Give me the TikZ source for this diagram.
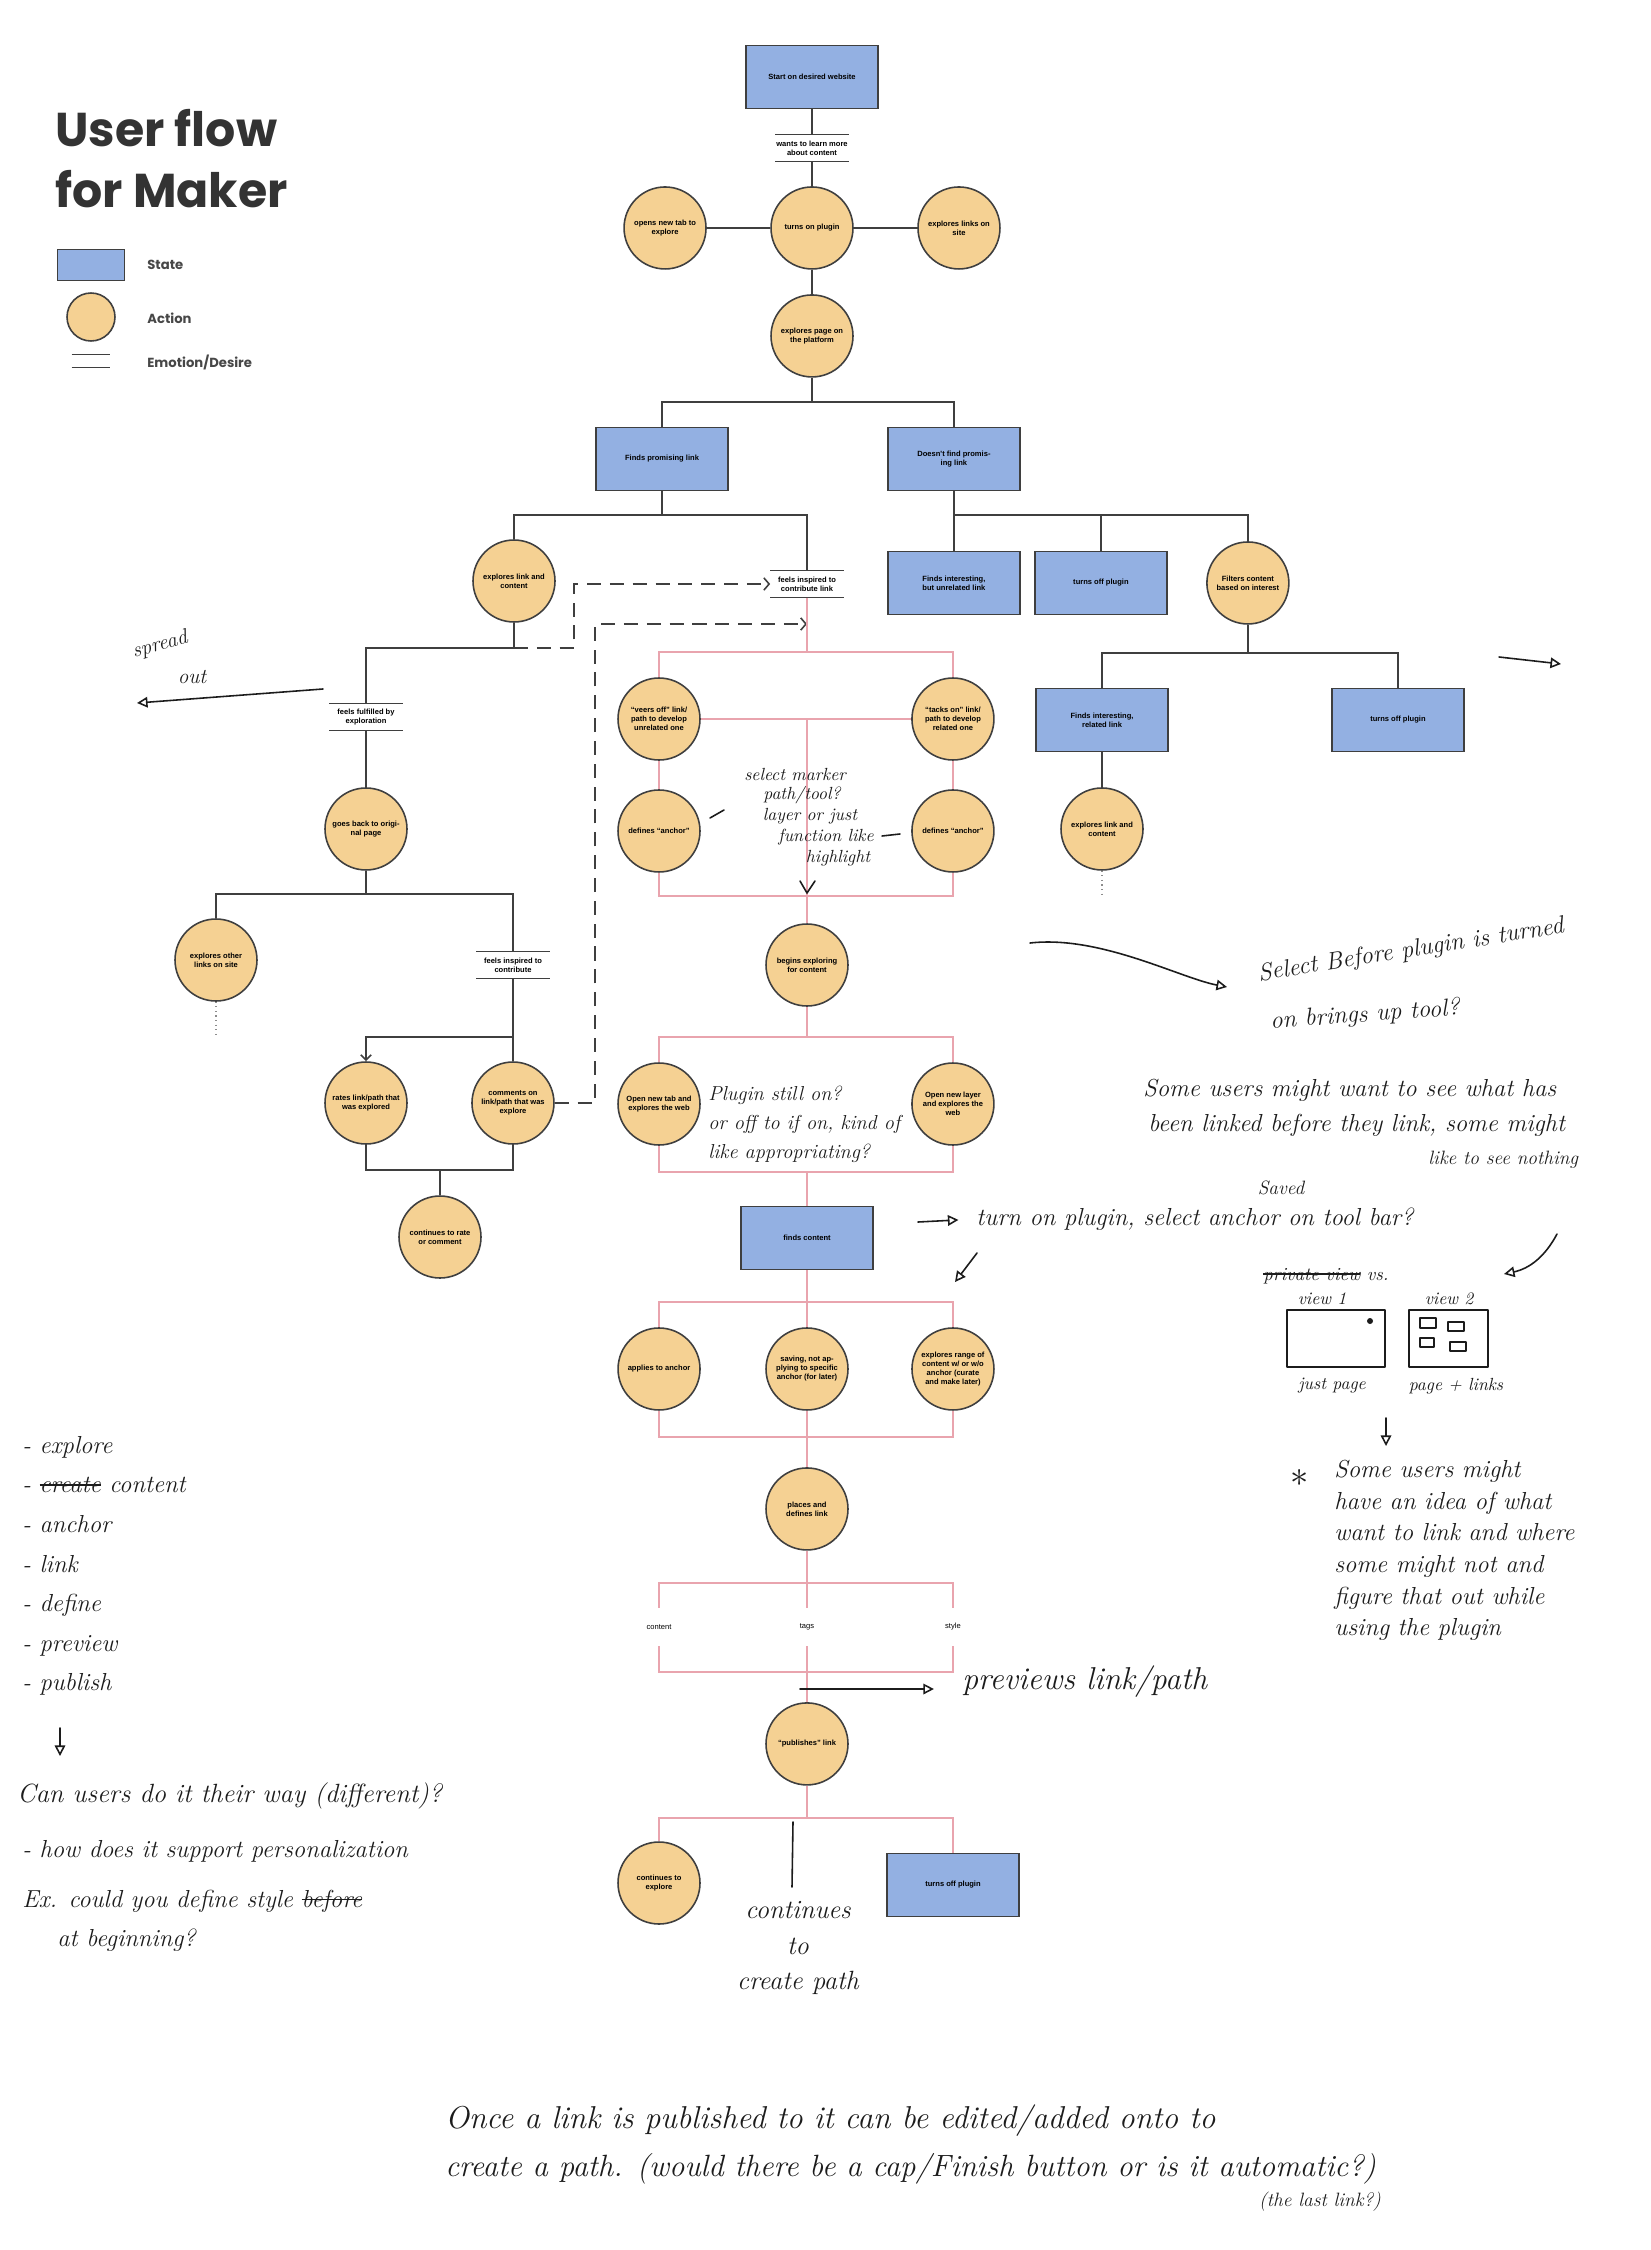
\documentclass[tikz,border=0pt]{standalone}
\usepackage{fontspec}
\usetikzlibrary{positioning,arrows.meta}
\newfontfamily\flowfont{Liberation Sans}
\newfontfamily\titlefont{Poppins}
\definecolor{stateBlue}{HTML}{93B0E2}
\definecolor{actionTan}{HTML}{F5D193}
\definecolor{lineGray}{HTML}{3F3F3F}
\definecolor{flowPink}{HTML}{E9A4AE}
\definecolor{inkBlack}{HTML}{1C1C1C}
\definecolor{titleGray}{HTML}{333333}
\newcommand{\nodeFont}{\flowfont\bfseries\fontsize{4.3}{5.1}\selectfont}
\newcommand{\plainFont}{\flowfont\fontsize{4.3}{5.1}\selectfont}
\newcommand{\handFont}[2]{\itshape\fontsize{#1}{#2}\selectfont}
\newcommand{\strikeWord}[1]{\setbox0\hbox{#1}\rlap{\rule[0.3em]{\wd0}{0.7pt}}\box0\relax}
\tikzset{State/.style={%
    shape=rectangle,%
    draw=lineGray,%
    fill=stateBlue,%
    line width=0.9pt,%
    minimum width=2.64cm,%
    minimum height=1.26cm,%
    inner sep=1pt,%
    align=center,%
    font=\nodeFont,%
}}
\tikzset{Action/.style={%
    shape=circle,%
    draw=lineGray,%
    fill=actionTan,%
    line width=0.9pt,%
    minimum size=1.64cm,%
    inner sep=0pt,%
    align=center,%
    font=\nodeFont,%
}}
\tikzset{EmoLine/.style={%
    draw=lineGray,%
    line width=0.9pt,%
}}
\tikzset{Emotion/.style={%
    shape=rectangle,%
    minimum width=1.46cm,%
    minimum height=0.53cm,%
    inner sep=0pt,%
    align=center,%
    font=\nodeFont,%
    append after command={(\tikzlastnode.north west) edge[EmoLine] (\tikzlastnode.north east)
        (\tikzlastnode.south west) edge[EmoLine] (\tikzlastnode.south east)},%
}}
\tikzset{LinkField/.style={%
    shape=rectangle,%
    minimum height=0.76cm,%
    inner sep=0pt,%
    font=\plainFont,%
}}
\tikzset{TitleText/.style={%
    font=\titlefont\bfseries\fontsize{27}{32}\selectfont,%
    text=titleGray,%
    inner sep=0pt,%
}}
\tikzset{LegendText/.style={%
    font=\titlefont\bfseries\fontsize{7.5}{9}\selectfont,%
    text=titleGray!90,%
    inner sep=0pt,%
}}
\tikzset{FlowEdge/.style={%
    draw=lineGray,%
    line width=0.9pt,%
}}
\tikzset{FlowArrow/.style={%
    FlowEdge,%
    -{Straight Barb[length=3pt,width=6pt]},%
}}
\tikzset{PinkEdge/.style={%
    draw=flowPink,%
    line width=0.8pt,%
}}
\tikzset{DashEdge/.style={%
    draw=lineGray,%
    line width=0.9pt,%
    dash pattern=on 8pt off 5pt,%
    -{Straight Barb[length=3pt,width=7pt]},%
}}
\tikzset{DotEdge/.style={%
    draw=lineGray!60,%
    line width=0.6pt,%
    dotted,%
}}
\tikzset{HandLine/.style={%
    draw=inkBlack,%
    line width=0.9pt,%
    line cap=round,%
    line join=round,%
}}
\tikzset{HandArrow/.style={%
    HandLine,%
    -{Triangle[open,length=6pt,width=6pt]},%
}}
\tikzset{Note/.style={%
    inner sep=0pt,%
    text=inkBlack,%
    align=left,%
    font=\handFont{14}{18},%
}}
\tikzset{SmallNote/.style={%
    Note,%
    font=\handFont{10}{12},%
}}

\begin{document}
\begin{tikzpicture}[x=0.02cm, y=-0.02cm, on grid]
    \useasboundingbox (0,0) rectangle (1650,2250);
    \fill[white] (0,0) rectangle (1650,2250);

    % title and legend
    \node[TitleText, anchor=base west] (title1) at (55,147) {User flow};
    \node[TitleText, anchor=base west] (title2) at (55,208) {for Maker};
    \node[State, minimum width=1.34cm, minimum height=0.62cm] (legState) at (91,265) {};
    \node[LegendText, anchor=west] (legStateT) at (147,265) {State};
    \node[Action, minimum size=0.96cm] (legAction) at (91,317) {};
    \node[LegendText, anchor=west] (legActionT) at (147,318) {Action};
    \node[Emotion, minimum width=0.76cm, minimum height=0.24cm] (legEmo) at (91,361) {};
    \node[LegendText, anchor=west] (legEmoT) at (147,362) {Emotion/Desire};

    % start of the flow
    \node[State] (start) at (812,77) {Start on desired website};
    \node[Emotion, below=1.42cm of start] (want) {wants to learn more\\about content};
    \node[Action, below=1.6cm of want] (plugin) {turns on plugin};
    \node[Action, left=2.94cm of plugin] (opentab) {opens new tab to\\explore};
    \node[Action, right=2.94cm of plugin] (exlinks) {explores links on\\site};
    \node[Action, below=2.16cm of plugin] (exppage) {explores page on\\the platform};

    \node[State] (promising) at (662,459) {Finds promising link};
    \node[State, right=5.84cm of promising] (notfound) {Doesn't find promis-\\ing link};
    \node[Action] (explink) at (514,581) {explores link and\\content};
    \node[Emotion] (inspired) at (807,584) {feels inspired to\\contribute link};
    \node[State, below=2.48cm of notfound] (unrelated) {Finds interesting,\\but unrelated link};
    \node[State, right=2.94cm of unrelated] (turnoff1) {turns off plugin};
    \node[Action, right=2.94cm of turnoff1] (filters) {Filters content\\based on interest};
    \node[State] (related) at (1102,720) {Finds interesting,\\related link};
    \node[State, right=5.92cm of related] (turnoff2) {turns off plugin};
    \node[Action, below=2.18cm of related] (explink2) {explores link and\\content};

    % left branch
    \node[Emotion] (fulfilled) at (366,717) {feels fulfilled by\\exploration};
    \node[Action, below=2.24cm of fulfilled] (goback) {goes back to origi-\\nal page};
    \node[Action] (exother) at (216,960) {explores other\\links on site};
    \node[Emotion] (inspired2) at (513,965) {feels inspired to\\contribute};
    \node[Action] (rates) at (366,1103) {rates link/path that\\was explored};
    \node[Action, right=2.94cm of rates] (comments) {comments on\\link/path that was\\explore};
    \node[Action] (contrate) at (440,1237) {continues to rate\\or comment};

    % contributing (pink)
    \node[Action] (veers) at (659,719) {“veers off” link/\\path to develop\\unrelated one};
    \node[Action, right=5.88cm of veers] (tacks) {“tacks on” link/\\path to develop\\related one};
    \node[Action, below=2.24cm of veers] (defines1) {defines “anchor”};
    \node[Action, below=2.24cm of tacks] (defines2) {defines “anchor”};
    \node[Action] (begins) at (807,965) {begins exploring\\for content};
    \node[Action] (opentab2) at (659,1104) {Open new tab and\\explores the web};
    \node[Action, right=5.88cm of opentab2] (openlayer) {Open new layer\\and explores the\\web};
    \node[State] (finds) at (807,1238) {finds content};
    \node[Action, below=2.62cm of finds] (saving) {saving, not ap-\\plying to specific\\anchor (for later)};
    \node[Action, left=2.96cm of saving] (applies) {applies to anchor};
    \node[Action, right=2.92cm of saving] (range) {explores range of\\content w/ or w/o\\anchor (curate\\and make later)};
    \node[Action, below=2.8cm of saving] (places) {places and\\defines link};
    \node[LinkField, below=2.36cm of places] (tagsL) {tags};
    \node[LinkField, left=2.96cm of tagsL] (contentL) {content};
    \node[LinkField, right=2.92cm of tagsL] (styleL) {style};
    \node[Action, below=2.34cm of tagsL] (publishes) {“publishes” link};
    \node[Action] (contexpl) at (659,1883) {continues to\\explore};
    \node[State] (turnoff3) at (953,1885) {turns off plugin};

    % connectors, top
    \draw[FlowEdge] (start) -- (want);
    \draw[FlowEdge] (want) -- (plugin);
    \draw[FlowEdge] (plugin) -- (opentab);
    \draw[FlowEdge] (plugin) -- (exlinks);
    \draw[FlowEdge] (plugin) -- (exppage);
    \coordinate (bar1) at (812,402);
    \draw[FlowEdge] (exppage) -- (bar1);
    \draw[FlowEdge] (promising.north) |- (bar1) -| (notfound.north);
    \coordinate (bar2) at (662,515);
    \draw[FlowEdge] (promising) -- (bar2);
    \draw[FlowEdge] (explink.north) |- (bar2) -| (inspired.north);
    \coordinate (bar3) at (954,515);
    \draw[FlowEdge] (notfound) -- (unrelated);
    \draw[FlowEdge] (bar3) -| (filters.north);
    \draw[FlowEdge] (turnoff1.north) -- (turnoff1.north |- bar3);
    \coordinate (bar4) at (1248,653);
    \draw[FlowEdge] (filters) -- (bar4);
    \draw[FlowEdge] (related.north) |- (bar4) -| (turnoff2.north);
    \draw[FlowEdge] (related) -- (explink2);
    \coordinate (trail1) at (1102,897);
    \draw[DotEdge] (explink2) -- (trail1);

    % connectors, left
    \coordinate (bar5) at (514,648);
    \draw[FlowEdge] (explink) -- (bar5);
    \draw[FlowEdge] (fulfilled.north) |- (bar5);
    \coordinate (dashA) at (574,584);
    \draw[DashEdge] (bar5) -| (dashA) -- (inspired.west);
    \draw[FlowEdge] (fulfilled) -- (goback);
    \coordinate (bar6) at (366,894);
    \draw[FlowEdge] (goback) -- (bar6);
    \draw[FlowEdge] (exother.north) |- (bar6) -| (inspired2.north);
    \coordinate (trail2) at (216,1037);
    \draw[DotEdge] (exother) -- (trail2);
    \coordinate (bar7) at (513,1037);
    \draw[FlowEdge] (inspired2) -- (comments);
    \draw[FlowArrow] (bar7) -| (rates.north);
    \coordinate (bar8) at (440,1170);
    \draw[FlowEdge] (rates.south) |- (bar8) -| (comments.south);
    \draw[FlowEdge] (bar8) -- (contrate);
    \coordinate (dashC) at (595,624);
    \draw[DashEdge] (comments.east) -| (dashC) -- (inspired.south |- dashC);

    % connectors, pink column
    \coordinate (bar9) at (807,652);
    \draw[PinkEdge] (inspired) -- (bar9);
    \draw[PinkEdge] (veers.north) |- (bar9) -| (tacks.north);
    \draw[PinkEdge] (veers) -- (tacks);
    \draw[PinkEdge] (veers) -- (defines1);
    \draw[PinkEdge] (tacks) -- (defines2);
    \coordinate (bar10) at (807,896);
    \draw[PinkEdge] (defines1.south) |- (bar10) -| (defines2.south);
    \coordinate (mid1) at (807,719);
    \draw[PinkEdge] (mid1) -- (begins);
    \coordinate (bar11) at (807,1037);
    \draw[PinkEdge] (begins) -- (bar11);
    \draw[PinkEdge] (opentab2.north) |- (bar11) -| (openlayer.north);
    \coordinate (bar12) at (807,1172);
    \draw[PinkEdge] (opentab2.south) |- (bar12) -| (openlayer.south);
    \draw[PinkEdge] (bar12) -- (finds);
    \coordinate (bar13) at (807,1302);
    \draw[PinkEdge] (finds) -- (saving);
    \draw[PinkEdge] (applies.north) |- (bar13) -| (range.north);
    \coordinate (bar14) at (807,1437);
    \draw[PinkEdge] (applies.south) |- (bar14) -| (range.south);
    \draw[PinkEdge] (saving) -- (places);
    \coordinate (bar15) at (807,1583);
    \draw[PinkEdge] (places) -- (tagsL);
    \draw[PinkEdge] (contentL.north) |- (bar15) -| (styleL.north);
    \coordinate (bar16) at (807,1672);
    \draw[PinkEdge] (contentL.south) |- (bar16) -| (styleL.south);
    \draw[PinkEdge] (tagsL) -- (publishes);
    \coordinate (bar17) at (807,1818);
    \draw[PinkEdge] (publishes) -- (bar17);
    \draw[PinkEdge] (contexpl.north) |- (bar17) -| (turnoff3.north);

    % handwritten notes
    \node[Note, rotate=15, font=\handFont{12}{12}] (spreadN) at (160,645) {spread};
    \node[Note, font=\handFont{12}{12}] (outN) at (192,677) {out};
    \draw[HandArrow] (323,689) -- (137,703);
    \draw[HandArrow] (1499,657) -- (1561,664);
    \draw[HandLine] (800,881) -- (807,893) -- (815,881);
    \node[SmallNote] (marker1) at (795,774) {select marker};
    \node[SmallNote] (marker2) at (802,795) {path/tool?};
    \node[SmallNote] (marker3) at (810,816) {layer or just};
    \node[SmallNote] (marker4) at (826,837) {function like};
    \node[SmallNote] (marker5) at (838,858) {highlight};
    \draw[HandLine] (710,818) -- (724,810);
    \draw[HandLine] (882,836) -- (900,834);
    \node[Note, anchor=west, rotate=9] (selBefore) at (1258,975) {Select Before plugin is turned};
    \node[Note, anchor=west, rotate=4] (bringsUp) at (1270,1022) {on brings up tool?};
    \draw[HandArrow] (1030,943) .. controls (1100,935) and (1180,978) .. (1227,987);
    \node[Note, anchor=west] (someUsers) at (1143,1090) {Some users might want to see what has};
    \node[Note, anchor=west] (beenLinked) at (1148,1125) {been linked before they link, some might};
    \node[Note, anchor=west, font=\handFont{11}{13}] (likeSee) at (1428,1160) {like to see nothing};
    \node[Note, font=\handFont{11}{13}] (savedN) at (1281,1188) {Saved};
    \node[Note, anchor=west] (turnOn) at (976,1219) {turn on plugin, select anchor on tool bar?};
    \coordinate (turnTail) at (918,1222);
    \draw[HandArrow, shorten >=10pt] (turnTail) -- (turnOn.west);
    \draw[HandArrow] (977,1253) -- (955,1282);
    \draw[HandArrow] (1557,1234) to[bend left=25] (1504,1274);
    \node[Note, anchor=west, font=\handFont{10.5}{12}] (privView) at (1263,1276) {\strikeWord{private view} vs.};
    \node[SmallNote] (view1L) at (1322,1299) {view 1};
    \node[SmallNote] (view2L) at (1449,1299) {view 2};
    \draw[HandLine] (1287,1310) rectangle (1385,1367);
    \fill[inkBlack] (1370,1321) circle (3);
    \draw[HandLine] (1409,1310) rectangle (1488,1367);
    \draw[HandLine, line width=0.7pt] (1420,1318) rectangle (1436,1328);
    \draw[HandLine, line width=0.7pt] (1448,1322) rectangle (1464,1331);
    \draw[HandLine, line width=0.7pt] (1420,1338) rectangle (1434,1347);
    \draw[HandLine, line width=0.7pt] (1450,1342) rectangle (1466,1351);
    \node[SmallNote] (justPage) at (1332,1386) {just page};
    \node[SmallNote] (pageLinks) at (1456,1386) {page + links};
    \draw[HandArrow] (1386,1418) -- (1386,1446);
    \node[Note, font=\handFont{20}{20}] (starN) at (1300,1478) {$\ast$};
    \node[Note, anchor=north west] (mightNote) at (1334,1460) {Some users might\\have an idea of what\\want to link and where\\some might not and\\figure that out while\\using the plugin};
    \node[Note, anchor=north west, font=\handFont{11.5}{16.5}] (stillOn) at (708,1086) {Plugin still on?\\or off to if on, kind of\\like appropriating?};
    \node[Note, anchor=west, font=\handFont{18}{20}] (previewN) at (962,1682) {previews link/path};
    \coordinate (previewTail) at (800,1689);
    \draw[HandArrow, shorten >=16pt] (previewTail) -- (previewN.west |- previewTail);
    \node[Note, anchor=north west, font=\handFont{14}{22.5}] (todoList) at (22,1436) {- explore\\- \strikeWord{create} content\\- anchor\\- link\\- define\\- preview\\- publish};
    \draw[HandArrow] (60,1728) -- (60,1756);
    \node[Note, anchor=west, font=\handFont{15}{18}] (canUsers) at (17,1796) {Can users do it their way (different)?};
    \node[Note, anchor=west] (howSupport) at (22,1851) {- how does it support personalization};
    \node[Note, anchor=west] (exDefine) at (22,1901) {Ex. could you define style \strikeWord{before}};
    \node[Note, anchor=west] (atBegin) at (57,1940) {at beginning?};
    \draw[HandLine] (793,1822) -- (792,1887);
    \node[Note, align=center, font=\handFont{15}{20}] (contPath) at (798,1948) {continues\\to\\create path};
    \node[Note, anchor=west, font=\handFont{18}{20}] (onceN) at (445,2121) {Once a link is published to it can be edited/added onto to};
    \node[Note, anchor=west, font=\handFont{17.5}{20}] (capN) at (445,2169) {create a path. (would there be a cap/Finish button or is it automatic?)};
    \node[Note, font=\handFont{11}{13}] (lastLink) at (1320,2202) {(the last link?)};
\end{tikzpicture}
\end{document}
